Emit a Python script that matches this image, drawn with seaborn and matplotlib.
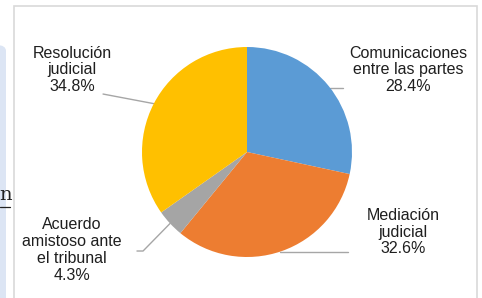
import numpy as np
import matplotlib
matplotlib.use("Agg")
import matplotlib.pyplot as plt
from matplotlib.patches import Rectangle, FancyBboxPatch
import seaborn as sns

categories = ["Comunicaciones\nentre las partes", "Mediación\njudicial",
              "Acuerdo\namistoso ante\nel tribunal", "Resolución\njudicial"]
values = [28.4, 32.6, 4.3, 34.8]
colors = ["#5B9BD5", "#ED7D31", "#A5A5A5", "#FFC000"]

sns.set_theme(style="white")
plt.rcParams['font.family'] = ['Liberation Sans', 'DejaVu Sans']

W, H = 482, 298
fig = plt.figure(figsize=(W / 100, H / 100), dpi=100)
fig.patch.set_facecolor("white")

# page decorations
fig.add_artist(FancyBboxPatch((-10 / W, -20 / H), 16 / W, (298 - 45 + 20) / H,
                              boxstyle="round,pad=0,rounding_size=0.02",
                              transform=fig.transFigure, facecolor="#DCE5F4",
                              edgecolor="none"))
fig.text(-1 / W, 1 - 195 / H, "n", fontsize=14, family="DejaVu Serif",
         ha="left", va="center", color="#222222")
fig.add_artist(plt.Line2D([0, 10 / W], [1 - 207 / H, 1 - 207 / H],
                          transform=fig.transFigure, color="#222222", lw=0.9))
fig.add_artist(Rectangle((14 / W, -0.1), (477 - 14) / W, 1.1 - 5.5 / H,
                         transform=fig.transFigure, facecolor="none",
                         edgecolor="#D9D9D9", lw=1.2))

cx, cy, r = 247, 152, 105
ax = fig.add_axes([(cx - r) / W, (H - cy - r) / H, 2 * r / W, 2 * r / H])

wedges, _ = ax.pie(values, colors=colors, startangle=90, counterclock=False,
                   radius=1, wedgeprops=dict(linewidth=0))
ax.set_xlim(-1, 1)
ax.set_ylim(-1, 1)
ax.set_aspect("equal")
ax.axis("off")

# label positions (layout), relative to pie radius
label_pos = [(1.533, 0.781), (1.486, -0.762), (-1.667, -0.93), (-1.667, 0.781)]
leader_ends = [[(0.914, 0.61)], [(0.962, -0.95)],
               [(-0.99, -0.943), (-1.048, -0.943)], [(-1.371, 0.552)]]

total = sum(values)
cum = 0
for cat, v, (lx, ly), ends in zip(categories, values, label_pos, leader_ends):
    mid = cum + v / 2
    cum += v
    ang = np.deg2rad(90 - 360 * mid / total)
    sx, sy = np.cos(ang), np.sin(ang)
    if cat.startswith("Comunicaciones"):
        sx, sy = np.sqrt(1 - 0.61 ** 2), 0.61
    if cat.startswith("Mediación"):
        sy = -0.95
        sx = np.sqrt(1 - sy ** 2)
    xs = [sx] + [e[0] for e in ends]
    ys = [sy] + [e[1] for e in ends]
    ax.plot(xs, ys, color="#A6A6A6", lw=1.0, clip_on=False, zorder=0)
    ax.text(lx, ly, f"{cat}\n{v:.1f}%", ha="center", va="center",
            fontsize=11.5, color="#1F1F1F", linespacing=1.16, clip_on=False)

fig.savefig("out.png", dpi=100)
